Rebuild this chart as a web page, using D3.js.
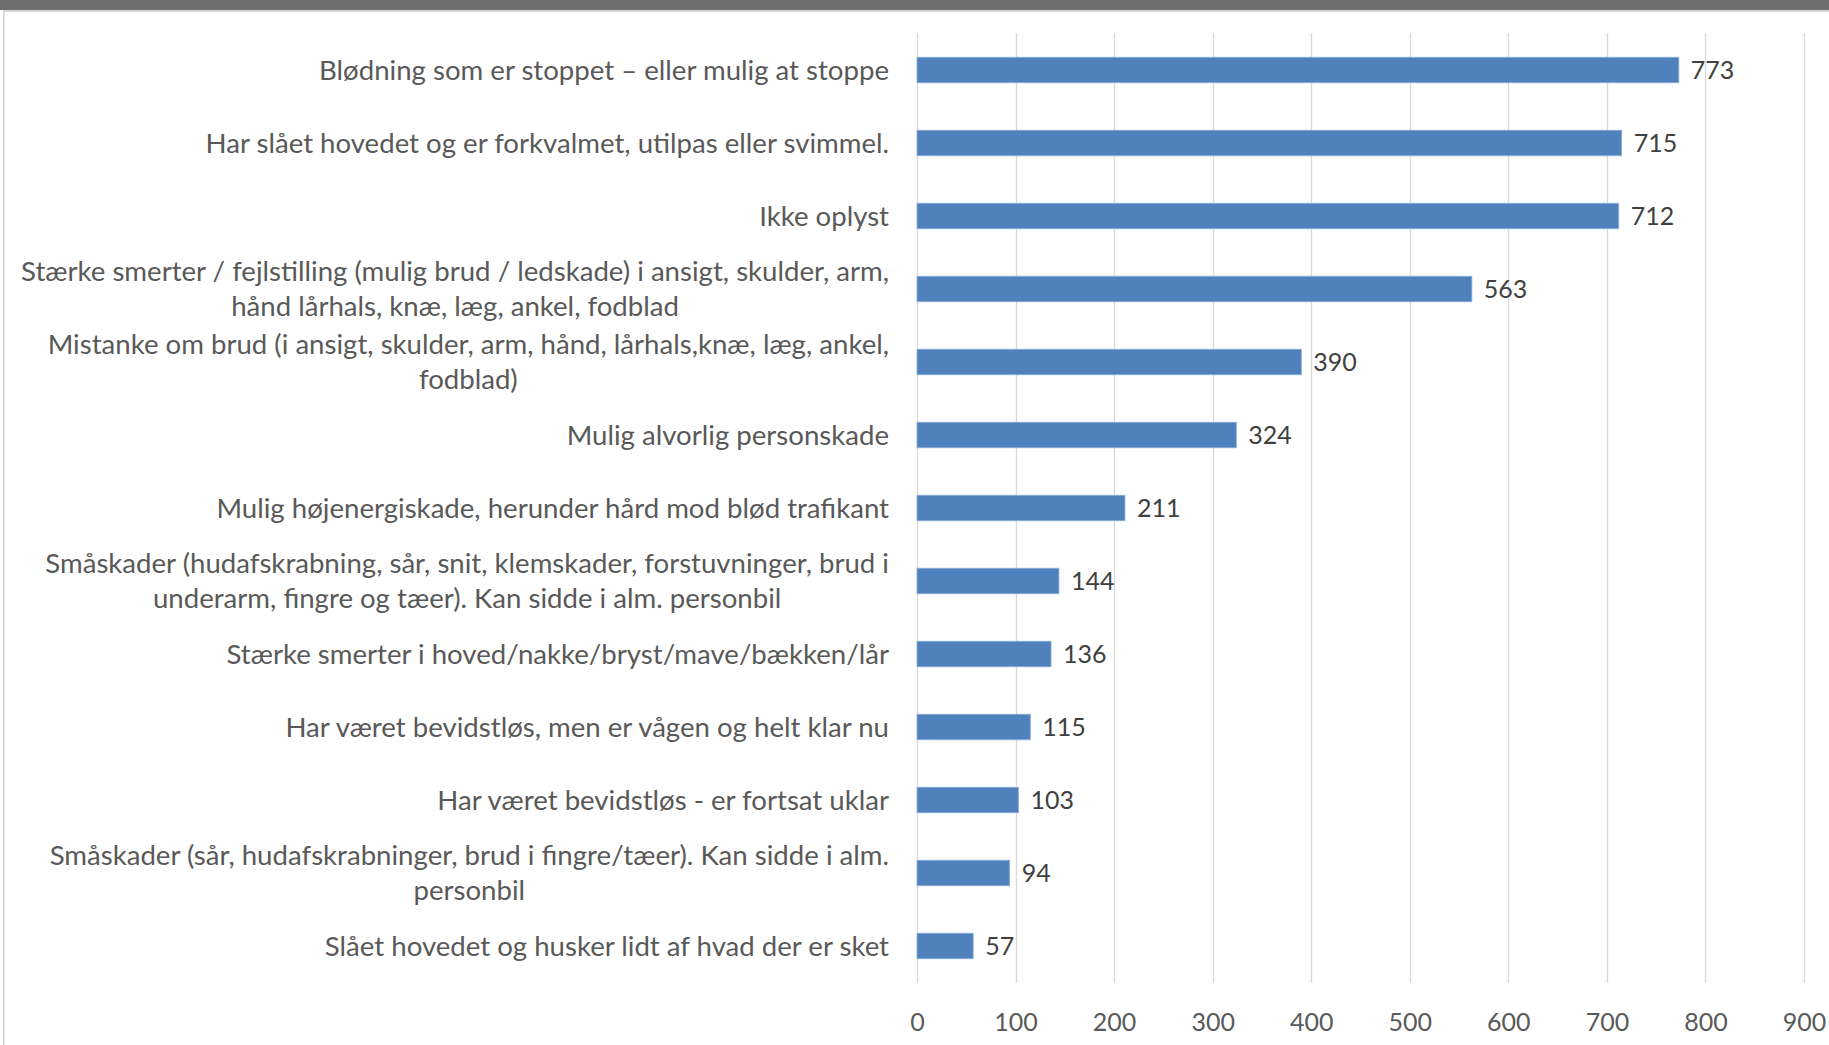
<!DOCTYPE html>
<html>
<head>
<meta charset="utf-8">
<script src="https://cdn.jsdelivr.net/npm/d3@7/dist/d3.min.js"></script>
<style>
  html, body { margin: 0; padding: 0; background: #fff; }
  svg { display: block; }
</style>
</head>
<body>
<svg id="chart" width="1829" height="1045"></svg>
<script>
const categories = [
  "Blødning som er stoppet – eller mulig at stoppe",
  "Har slået hovedet og er forkvalmet, utilpas eller svimmel.",
  "Ikke oplyst",
  "Stærke smerter / fejlstilling (mulig brud / ledskade) i ansigt, skulder, arm,\nhånd lårhals, knæ, læg, ankel, fodblad",
  "Mistanke om brud (i ansigt, skulder, arm, hånd, lårhals,knæ, læg, ankel,\nfodblad)",
  "Mulig alvorlig personskade",
  "Mulig højenergiskade, herunder hård mod blød trafikant",
  "Småskader (hudafskrabning, sår, snit, klemskader, forstuvninger, brud i\nunderarm, fingre og tæer). Kan sidde i alm. personbil",
  "Stærke smerter i hoved/nakke/bryst/mave/bækken/lår",
  "Har været bevidstløs, men er vågen og helt klar nu",
  "Har været bevidstløs - er fortsat uklar",
  "Småskader (sår, hudafskrabninger, brud i fingre/tæer). Kan sidde i alm.\npersonbil",
  "Slået hovedet og husker lidt af hvad der er sket"
];
const values = [773, 715, 712, 563, 390, 324, 211, 144, 136, 115, 103, 94, 57];
const xTicks = [0, 100, 200, 300, 400, 500, 600, 700, 800, 900];

const svg = d3.select("#chart");
const FONT = "Lato, 'Open Sans', sans-serif";
const CAT_FS = 27.6;

// frame decoration (window chrome)
svg.append("rect").attr("x", 0).attr("y", 0).attr("width", 1829).attr("height", 10).attr("fill", "#6e6e6e");
svg.append("rect").attr("x", 3).attr("y", 10).attr("width", 1826).attr("height", 2).attr("fill", "#d4d4d4");
svg.append("rect").attr("x", 3).attr("y", 10).attr("width", 1.6).attr("height", 1035).attr("fill", "#d4d4d4");

const x = d3.scaleLinear().domain([0, 900]).range([917, 1804]);
const y = d3.scaleBand().domain(categories).range([33.5, 982.5])
  .paddingInner(0.65).paddingOuter(0.325);

// gridlines
svg.append("g").selectAll("line").data(xTicks).join("line")
  .attr("x1", d => Math.round(x(d)) + 0.5).attr("x2", d => Math.round(x(d)) + 0.5)
  .attr("y1", 33).attr("y2", 983)
  .attr("stroke", "#d9d9d9").attr("stroke-width", 1.3);

// x axis tick labels
const xAxis = d3.axisBottom(x).tickValues(xTicks).tickSize(0).tickPadding(0);
const gx = svg.append("g").attr("transform", "translate(0,1022)").call(xAxis);
gx.select(".domain").remove();
gx.selectAll("text")
  .attr("y", 0).attr("dy", "0.36em")
  .attr("font-family", FONT).attr("font-size", 25).attr("fill", "#595959");

// bars
svg.append("g").selectAll("rect").data(values).join("rect")
  .attr("x", x(0))
  .attr("y", (d, i) => y(categories[i]))
  .attr("width", d => x(d) - x(0))
  .attr("height", y.bandwidth())
  .attr("fill", "#4f81bd")
  .attr("stroke", "#8fb0dc").attr("stroke-width", 0.8);

// value labels
svg.append("g").selectAll("text").data(values).join("text")
  .attr("x", d => x(d) + 12)
  .attr("y", (d, i) => y(categories[i]) + y.bandwidth() / 2)
  .attr("dy", "0.36em")
  .attr("font-family", FONT).attr("font-size", 25).attr("fill", "#404040")
  .text(d => d);

// category labels: block right-aligned to the axis, lines centred within block
const lineH = 35;
const right = x(0) - 28;
const cat = svg.append("g").selectAll("text").data(categories).join("text")
  .attr("y", d => y(d) + y.bandwidth() / 2)
  .attr("font-family", FONT).attr("font-size", CAT_FS).attr("fill", "#595959");
cat.each(function(d) {
  const lines = d.split("\n");
  const t = d3.select(this);
  const spans = lines.map((ln, k) => t.append("tspan")
      .attr("dy", k === 0 ? ((-(lines.length - 1) / 2) * lineH / CAT_FS + 0.36) + "em" : (lineH / CAT_FS) + "em")
      .text(ln));
  if (lines.length === 1) {
    t.attr("text-anchor", "end");
    spans[0].attr("x", right);
  } else {
    const maxW = d3.max(spans, s => s.node().getComputedTextLength());
    t.attr("text-anchor", "middle");
    spans.forEach(s => s.attr("x", right - maxW / 2));
  }
});
</script>
</body>
</html>
